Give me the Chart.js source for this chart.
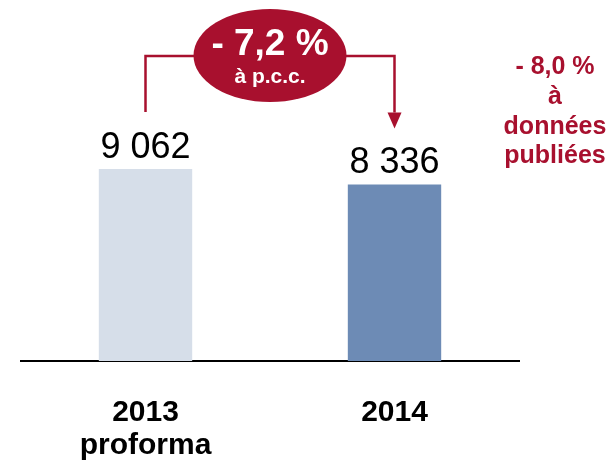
<!DOCTYPE html>
<html>
<head>
<meta charset="utf-8">
<script src="https://cdn.jsdelivr.net/npm/chart.js@4/dist/chart.umd.min.js"></script>
<style>
  html, body { margin: 0; padding: 0; background: #fff; }
</style>
</head>
<body>
<canvas id="chart" width="613" height="467"></canvas>
<script>
const categories = [['2013', 'proforma'], '2014'];
const values = [9062, 8336];
const barColors = ['#d6dee9', '#6d8bb5'];
const changeBadge = ['- 7,2 %', 'à p.c.c.'];
const publishedNote = ['- 8,0 %', 'à', 'données', 'publiées'];

const RED = '#a8102e';
const FONT = 'Liberation Sans, Arial, sans-serif';

function formatValue(v) {
    // thousands separated by a space, french style
    return String(v).replace(/\B(?=(\d{3})+(?!\d))/g, ' ');
}

// value labels, bracket with arrow, red badge and side note
const annotations = {
    id: 'annotations',
    afterDatasetsDraw(chart) {
        const ctx = chart.ctx;
        const bars = chart.getDatasetMeta(0).data;

        ctx.save();
        ctx.fillStyle = '#000';
        ctx.font = '36px ' + FONT;
        ctx.textAlign = 'center';
        ctx.textBaseline = 'alphabetic';
        bars.forEach((bar, i) => {
            ctx.fillText(formatValue(values[i]), bar.x, bar.y - 11);
        });

        const x1 = bars[0].x;
        const x2 = bars[1].x;
        const lineY = 56;

        ctx.strokeStyle = RED;
        ctx.lineWidth = 2.5;
        ctx.beginPath();
        ctx.moveTo(x1, bars[0].y - 57);
        ctx.lineTo(x1, lineY);
        ctx.lineTo(x2, lineY);
        ctx.lineTo(x2, bars[1].y - 72);
        ctx.stroke();

        // arrow head
        const tip = bars[1].y - 56;
        ctx.fillStyle = RED;
        ctx.beginPath();
        ctx.moveTo(x2 - 7, tip - 16);
        ctx.lineTo(x2 + 7, tip - 16);
        ctx.lineTo(x2, tip);
        ctx.closePath();
        ctx.fill();

        // badge
        const cx = (x1 + x2) / 2;
        ctx.beginPath();
        ctx.ellipse(cx, 55.5, 76.5, 46.5, 0, 0, Math.PI * 2);
        ctx.fill();
        ctx.fillStyle = '#fff';
        ctx.font = 'bold 37px ' + FONT;
        ctx.fillText(changeBadge[0], cx, 55);
        ctx.font = 'bold 21px ' + FONT;
        ctx.fillText(changeBadge[1], cx, 83);

        // note on the right
        ctx.fillStyle = RED;
        ctx.font = 'bold 25px ' + FONT;
        const baselines = [74, 104, 134, 163];
        publishedNote.forEach((line, i) => {
            ctx.fillText(line, 555, baselines[i]);
        });
        ctx.restore();
    }
};

const chart = new Chart(document.getElementById('chart').getContext('2d'), {
    type: 'bar',
    data: {
        labels: categories,
        datasets: [{
            data: values,
            backgroundColor: barColors,
            borderWidth: 0,
            categoryPercentage: 1,
            barPercentage: 0.375
        }]
    },
    options: {
        responsive: false,
        animation: false,
        devicePixelRatio: 1,
        layout: {
            padding: { top: 22, left: 21, right: 94, bottom: 0 }
        },
        plugins: {
            legend: { display: false },
            tooltip: { enabled: false }
        },
        scales: {
            x: {
                grid: { display: false },
                border: { display: true, color: '#000', width: 2 },
                ticks: {
                    color: '#000',
                    padding: 27,
                    font: { family: FONT, size: 30, weight: 'bold', lineHeight: 1.1 }
                },
                afterFit(scale) {
                    scale.height = 106;
                }
            },
            y: {
                display: false,
                min: 0,
                max: 16000
            }
        }
    },
    plugins: [annotations]
});
</script>
</body>
</html>
